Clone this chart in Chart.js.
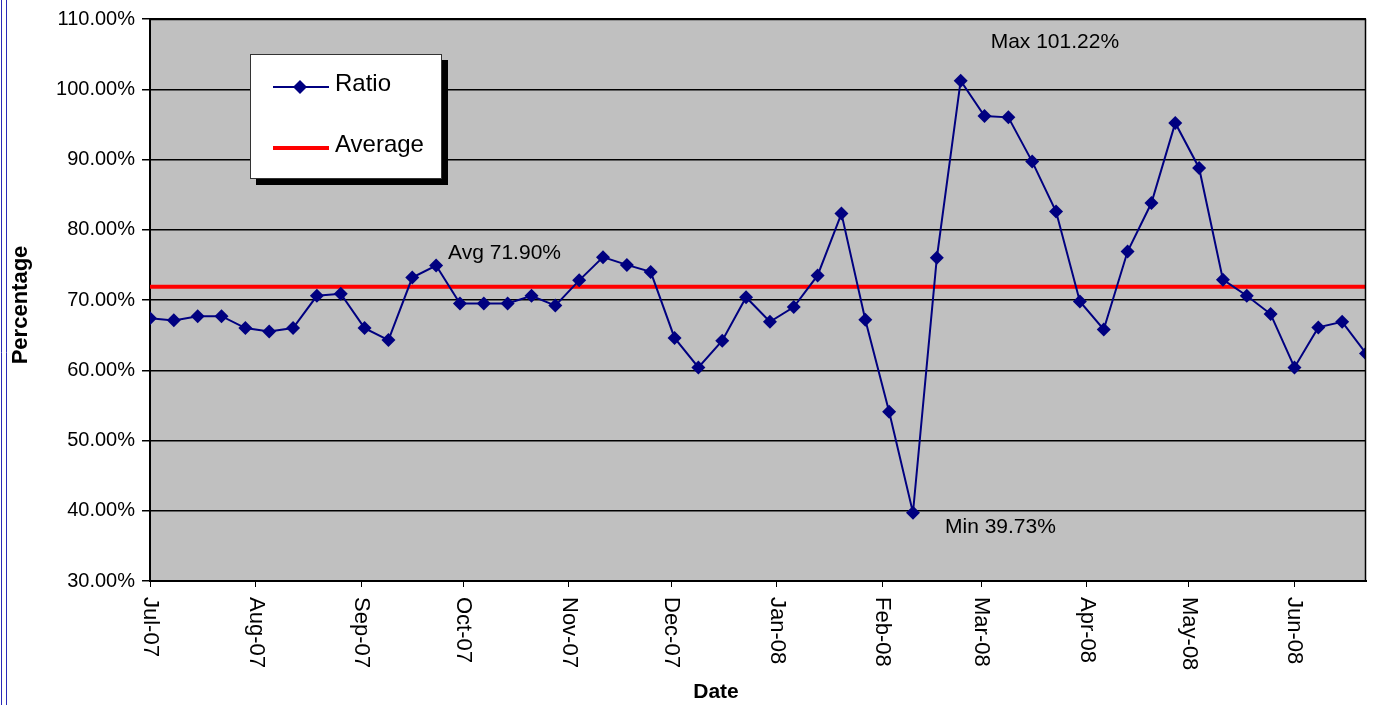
<!DOCTYPE html>
<html>
<head>
<meta charset="utf-8">
<script src="https://cdn.jsdelivr.net/npm/chart.js@4/dist/chart.umd.min.js"></script>
<style>
  html, body { margin: 0; padding: 0; background: #ffffff; overflow: hidden; }
  #wrap { position: relative; width: 1378px; height: 705px; }
</style>
</head>
<body>
<div id="wrap"><canvas id="chart" width="1378" height="705"></canvas></div>
<script>
// Weekly observation dates
const weekDates = [
  '2007-07-02', '2007-07-09', '2007-07-16', '2007-07-23', '2007-07-30',
  '2007-08-06', '2007-08-13', '2007-08-20', '2007-08-27',
  '2007-09-03', '2007-09-10', '2007-09-17', '2007-09-24',
  '2007-10-01', '2007-10-08', '2007-10-15', '2007-10-22', '2007-10-29',
  '2007-11-05', '2007-11-12', '2007-11-19', '2007-11-26',
  '2007-12-03', '2007-12-10', '2007-12-17', '2007-12-24', '2007-12-31',
  '2008-01-07', '2008-01-14', '2008-01-21', '2008-01-28',
  '2008-02-04', '2008-02-11', '2008-02-18', '2008-02-25',
  '2008-03-03', '2008-03-10', '2008-03-17', '2008-03-24', '2008-03-31',
  '2008-04-07', '2008-04-14', '2008-04-21', '2008-04-28',
  '2008-05-05', '2008-05-12', '2008-05-19', '2008-05-26',
  '2008-06-02', '2008-06-09', '2008-06-16', '2008-06-23'
];

// Ratio per week, in percent
const ratioValues = [
  67.4, 67.1, 67.7, 67.7, 66.0,
  65.5, 66.0, 70.6, 70.9,
  66.0, 64.3, 73.2, 74.9,
  69.5, 69.5, 69.5, 70.6, 69.2,
  72.8, 76.1, 75.0, 74.0,
  64.6, 60.4, 64.2, 70.4, 66.9,
  69.0, 73.5, 82.3, 67.2,
  54.1, 39.73, 76.0, 101.22,
  96.2, 96.0, 89.7, 82.6, 69.8,
  65.8, 76.9, 83.8, 95.2,
  88.8, 72.9, 70.6, 68.0,
  60.4, 66.1, 66.9, 62.4
];

// Average of the ratio over the period, in percent
const averageValue = 71.90;

// Month ticks on the date axis
const monthTickDates = [
  '2007-07-02', '2007-08-02', '2007-09-02', '2007-10-02', '2007-11-02', '2007-12-02',
  '2008-01-02', '2008-02-02', '2008-03-02', '2008-04-02', '2008-05-02', '2008-06-02'
];
const monthTickLabels = [
  'Jul-07', 'Aug-07', 'Sep-07', 'Oct-07', 'Nov-07', 'Dec-07',
  'Jan-08', 'Feb-08', 'Mar-08', 'Apr-08', 'May-08', 'Jun-08'
];

const xAxisTitle = 'Date';
const yAxisTitle = 'Percentage';

const FONT = '"Liberation Sans", Arial, sans-serif';

// days elapsed since the first observation
function dayOf(s) {
  const p = s.split('-').map(Number);
  const q = weekDates[0].split('-').map(Number);
  return Math.round((Date.UTC(p[0], p[1] - 1, p[2]) - Date.UTC(q[0], q[1] - 1, q[2])) / 86400000);
}

const ratioPoints = weekDates.map((d, i) => ({ x: dayOf(d), y: ratioValues[i] }));
const firstDay = dayOf(weekDates[0]);
const lastDay = dayOf(weekDates[weekDates.length - 1]);

// Silver plot background, outer frame, rotated month labels, titles, notes and legend
const decorations = {
  id: 'decorations',
  beforeDraw(chart) {
    const { ctx, chartArea: a } = chart;
    ctx.save();
    ctx.fillStyle = '#c0c0c0';
    ctx.fillRect(a.left, a.top, a.right - a.left, a.bottom - a.top);
    // double blue frame line on the left edge
    ctx.strokeStyle = '#2a2ab8';
    ctx.lineWidth = 1;
    [1.5, 6.5].forEach(x => {
      ctx.beginPath(); ctx.moveTo(x, 0); ctx.lineTo(x, chart.height); ctx.stroke();
    });
    ctx.restore();
  },
  afterDatasetsDraw(chart) {
    const { ctx, chartArea: a, scales } = chart;
    const xs = scales.x, ys = scales.y;
    ctx.save();
    // top and right border of the plot
    ctx.strokeStyle = '#000';
    ctx.lineWidth = 1.5;
    ctx.beginPath();
    ctx.moveTo(a.left, a.top + 0.5);
    ctx.lineTo(a.right - 0.5, a.top + 0.5);
    ctx.lineTo(a.right - 0.5, a.bottom);
    ctx.stroke();

    // month labels, rotated to read downward
    ctx.fillStyle = '#000';
    ctx.font = '22px ' + FONT;
    ctx.textAlign = 'left';
    ctx.textBaseline = 'middle';
    monthTickDates.forEach((d, i) => {
      const px = xs.getPixelForValue(dayOf(d));
      ctx.save();
      ctx.translate(px, a.bottom + 16);
      ctx.rotate(Math.PI / 2);
      ctx.fillText(monthTickLabels[i], 0, 0);
      ctx.restore();
    });

    // axis titles
    ctx.font = 'bold 21px ' + FONT;
    ctx.textAlign = 'center';
    ctx.fillText(xAxisTitle, 716, 692);
    ctx.save();
    ctx.translate(21, 305);
    ctx.rotate(-Math.PI / 2);
    ctx.font = 'bold 22px ' + FONT;
    ctx.fillText(yAxisTitle, 0, 0);
    ctx.restore();

    // value notes next to the average line and the extreme points
    const maxVal = Math.max(...ratioValues);
    const minVal = Math.min(...ratioValues);
    const maxPt = ratioPoints[ratioValues.indexOf(maxVal)];
    const minPt = ratioPoints[ratioValues.indexOf(minVal)];
    ctx.font = '21px ' + FONT;
    ctx.textAlign = 'left';
    ctx.fillText('Avg ' + averageValue.toFixed(2) + '%', xs.getPixelForValue(ratioPoints[12].x) + 12, ys.getPixelForValue(averageValue) - 33);
    ctx.fillText('Max ' + maxVal.toFixed(2) + '%', xs.getPixelForValue(maxPt.x) + 30, ys.getPixelForValue(maxVal) - 38);
    ctx.fillText('Min ' + minVal.toFixed(2) + '%', xs.getPixelForValue(minPt.x) + 32, ys.getPixelForValue(minVal) + 15);

    // legend box with drop shadow
    const bx = 250, by = 54, bw = 192, bh = 125;
    ctx.fillStyle = '#000';
    ctx.fillRect(bx + 6, by + 6, bw, bh);
    ctx.fillStyle = '#fff';
    ctx.fillRect(bx, by, bw, bh);
    ctx.strokeStyle = '#333';
    ctx.lineWidth = 1;
    ctx.strokeRect(bx + 0.5, by + 0.5, bw - 1, bh - 1);
    const rows = [by + 33, by + 94];
    chart.data.datasets.forEach((ds, i) => {
      const yy = rows[i];
      ctx.strokeStyle = ds.borderColor;
      ctx.lineWidth = ds.borderWidth;
      ctx.beginPath();
      ctx.moveTo(bx + 23, yy);
      ctx.lineTo(bx + 79, yy);
      ctx.stroke();
      if (ds.pointRadius > 0) {
        ctx.fillStyle = ds.pointBackgroundColor;
        const r = ds.pointRadius;
        ctx.beginPath();
        ctx.moveTo(bx + 50, yy - r);
        ctx.lineTo(bx + 50 + r, yy);
        ctx.lineTo(bx + 50, yy + r);
        ctx.lineTo(bx + 50 - r, yy);
        ctx.closePath();
        ctx.fill();
      }
      ctx.fillStyle = '#000';
      ctx.font = '24px ' + FONT;
      ctx.textAlign = 'left';
      ctx.textBaseline = 'middle';
      ctx.fillText(ds.label, bx + 85, yy - 3);
    });
    ctx.restore();
  }
};

new Chart(document.getElementById('chart'), {
  type: 'line',
  data: {
    datasets: [
      {
        label: 'Ratio',
        data: ratioPoints,
        borderColor: '#000080',
        backgroundColor: '#000080',
        pointBackgroundColor: '#000080',
        pointBorderColor: '#000080',
        borderWidth: 2,
        pointStyle: 'rectRot',
        pointRadius: 7,
        pointBorderWidth: 0,
        tension: 0,
        order: 1
      },
      {
        label: 'Average',
        data: [{ x: firstDay, y: averageValue }, { x: lastDay, y: averageValue }],
        borderColor: '#ff0000',
        backgroundColor: '#ff0000',
        borderWidth: 4,
        pointRadius: 0,
        tension: 0,
        order: 2
      }
    ]
  },
  options: {
    responsive: false,
    animation: false,
    events: [],
    layout: { padding: { left: 0, right: 12, top: 19, bottom: 0 } },
    plugins: {
      legend: { display: false },
      tooltip: { enabled: false },
      title: { display: false }
    },
    scales: {
      x: {
        type: 'linear',
        min: firstDay,
        max: lastDay,
        afterBuildTicks(scale) {
          scale.ticks = monthTickDates.map(d => ({ value: dayOf(d) }));
        },
        afterFit(scale) { scale.height = 124; },
        ticks: { callback: () => '', font: { size: 4 } },
        grid: { drawOnChartArea: false, drawTicks: true, tickLength: 6, color: '#000', lineWidth: 1 },
        border: { color: '#000', width: 2 }
      },
      y: {
        min: 30,
        max: 110,
        afterFit(scale) { scale.width = 150; },
        ticks: {
          stepSize: 10,
          callback: v => v.toFixed(2) + '%',
          color: '#000',
          padding: 7,
          font: { family: FONT, size: 20 }
        },
        grid: { color: '#000', lineWidth: 1.5, tickLength: 8 },
        border: { color: '#000', width: 2 }
      }
    }
  },
  plugins: [decorations]
});
</script>
</body>
</html>
